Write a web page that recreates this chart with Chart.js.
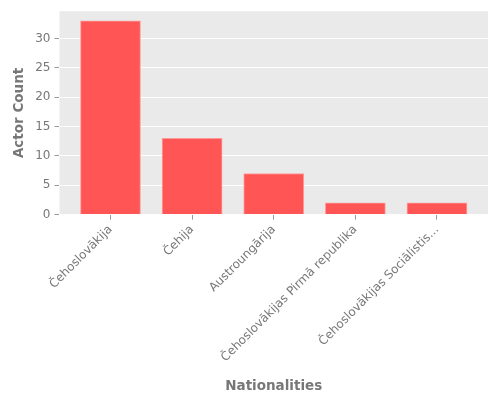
<!DOCTYPE html>
<html>
<head>
<meta charset="utf-8">
<script src="https://cdn.jsdelivr.net/npm/chart.js@4"></script>
<style>
  body { margin: 0; background: #fff; }
  #wrap { width: 500px; height: 400px; }
</style>
</head>
<body>
<div id="wrap"><canvas id="myChart" width="500" height="400"></canvas></div>
<script>
let nationalities = ["Čehoslovākija", "Čehija", "Austroungārija", "Čehoslovākijas Pirmā republika", "Čehoslovākijas Sociālistis..."];
let actorCounts = [33, 13, 7, 2, 2];
let yTicks = [0, 5, 10, 15, 20, 25, 30];
let yMax = 34.65;

// grey panel behind the plot, like the ggplot style
const panelBg = {
  id: "panelBg",
  beforeDraw(chart) {
    const a = chart.chartArea;
    const ctx = chart.ctx;
    ctx.save();
    ctx.fillStyle = "#EAEAEA";
    ctx.fillRect(a.left, a.top, a.right - a.left, a.bottom - a.top);
    ctx.restore();
  }
};

Chart.defaults.font.family = "'DejaVu Sans', sans-serif";
Chart.defaults.color = "#777";

const ctx = document.getElementById("myChart");
new Chart(ctx, {
  type: "bar",
  data: {
    datasets: [{
      data: actorCounts.map((v, i) => ({ x: i, y: v })),
      backgroundColor: "#FF5555",
      borderColor: "#FF9A9A",
      borderWidth: 1,
      barThickness: 60
    }]
  },
  options: {
    responsive: false,
    animation: false,
    layout: { padding: { left: 7, right: 12, top: 10, bottom: 1 } },
    plugins: { legend: { display: false }, tooltip: { enabled: false } },
    scales: {
      x: {
        type: "linear",
        min: -0.625,
        max: 4.625,
        offset: false,
        afterBuildTicks: (axis) => { axis.ticks = nationalities.map((n, i) => ({ value: i })); },
        ticks: {
          autoSkip: false,
          minRotation: 45,
          maxRotation: 45,
          font: { size: 12 },
          color: "#777",
          callback: (v) => nationalities[v]
        },
        grid: { display: true, offset: false, drawOnChartArea: false, color: "#999", tickColor: "#999", tickLength: 5 },
        border: { display: false },
        title: { display: true, text: "Nationalities", font: { size: 13.5, weight: "bold" }, color: "#777", padding: { top: 11 } }
      },
      y: {
        min: 0,
        max: yMax,
        afterBuildTicks: (axis) => { axis.ticks = yTicks.map(v => ({ value: v })); },
        ticks: { font: { size: 12 }, color: "#777", padding: 4 },
        grid: { color: "#fff", lineWidth: 1, tickColor: "#999", tickLength: 5 },
        border: { display: false },
        title: { display: true, text: "Actor Count", font: { size: 13.5, weight: "bold" }, color: "#777" }
      }
    }
  },
  plugins: [panelBg]
});
</script>
</body>
</html>
